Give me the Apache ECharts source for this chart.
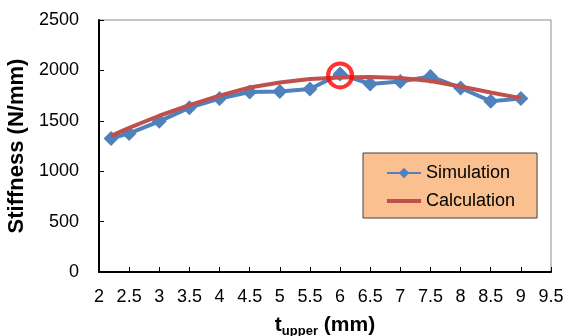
<!DOCTYPE html>
<html lang="en">

<head>
  <meta charset="UTF-8">
  <title>Stiffness</title>
  <style>
    body { margin: 0; background: #fff; }
    #main { width: 565px; height: 336px; }
  </style>
</head>

<body>
  <div id="main"></div>
  <script src="https://cdn.jsdelivr.net/npm/echarts@6/dist/echarts.min.js"></script>
  <script>
    const myChart = echarts.init(document.getElementById('main'));

    // t_upper values (mm)
    const tUpper = [2.2, 2.5, 3, 3.5, 4, 4.5, 5, 5.5, 6, 6.5, 7, 7.5, 8, 8.5, 9];
    // stiffness (N/mm)
    const simulation = [1325, 1375, 1495, 1630, 1720, 1785, 1790, 1815, 1965, 1865, 1890, 1940, 1825, 1695, 1720];
    const calculation = [1350, 1430, 1550, 1655, 1750, 1830, 1880, 1915, 1930, 1935, 1925, 1895, 1840, 1780, 1725];
    // highlighted point
    const highlight = [[6, 1950]];

    const font = 'Liberation Sans';

    const option = {
      animation: false,
      textStyle: { fontFamily: font },
      grid: {
        left: 99, right: 14, top: 20, bottom: 64,
        outerBoundsMode: 'none',
        show: true, borderColor: '#8c8c8c', borderWidth: 1
      },
      legend: {
        data: [
          { name: 'Simulation' },
          { name: 'Calculation', icon: 'path://M0,0h34v4h-34z' }
        ],
        orient: 'vertical',
        left: 363, top: 153,
        padding: [11, 22, 8, 23],
        itemWidth: 34, itemHeight: 13, itemGap: 10,
        backgroundColor: '#FAC090',
        borderColor: '#404040', borderWidth: 1,
        textStyle: { fontSize: 18, color: '#000', fontFamily: font }
      },
      xAxis: {
        type: 'value', min: 2, max: 9.5, interval: 0.5,
        name: '{a|t}{b|upper}{a| (mm)}',
        nameLocation: 'middle', nameGap: 40,
        nameTextStyle: {
          rich: {
            a: { fontSize: 21, fontWeight: 'bold', color: '#000', lineHeight: 26, fontFamily: font },
            b: { fontSize: 13, fontWeight: 'bold', color: '#000', verticalAlign: 'bottom', lineHeight: 14, fontFamily: font }
          }
        },
        axisLine: { lineStyle: { color: '#000', width: 2 } },
        axisTick: { inside: true, length: 5, lineStyle: { color: '#000', width: 1 } },
        axisLabel: { fontSize: 18, color: '#000', margin: 16 },
        splitLine: { show: false }
      },
      yAxis: {
        type: 'value', min: 0, max: 2500, interval: 500,
        name: 'Stiffness (N/mm)',
        nameLocation: 'middle', nameGap: 67,
        nameTextStyle: { fontSize: 22, fontWeight: 'bold', color: '#000' },
        axisLine: { show: true, lineStyle: { color: '#000', width: 2 } },
        axisTick: { show: true, inside: true, length: 5, lineStyle: { color: '#000', width: 1 } },
        axisLabel: { fontSize: 18, color: '#000', margin: 20, formatter: v => String(v) },
        splitLine: { show: false }
      },
      series: [
        {
          name: 'Simulation', type: 'line',
          data: tUpper.map((t, i) => [t, simulation[i]]),
          symbol: 'diamond', symbolSize: 15,
          itemStyle: { color: '#4F81BD' },
          lineStyle: { color: '#4F81BD', width: 4 },
          z: 2
        },
        {
          name: 'Calculation', type: 'line',
          data: tUpper.map((t, i) => [t, calculation[i]]),
          showSymbol: false, symbol: 'none',
          itemStyle: { color: '#C0504D' },
          lineStyle: { color: '#C0504D', width: 4 },
          z: 3
        },
        {
          name: 'mark', type: 'scatter',
          data: highlight,
          symbol: 'circle', symbolSize: 24,
          itemStyle: { color: 'rgba(0,0,0,0)', borderColor: '#FF0000', borderWidth: 4 },
          z: 4
        }
      ]
    };

    myChart.setOption(option);
  </script>
</body>

</html>
